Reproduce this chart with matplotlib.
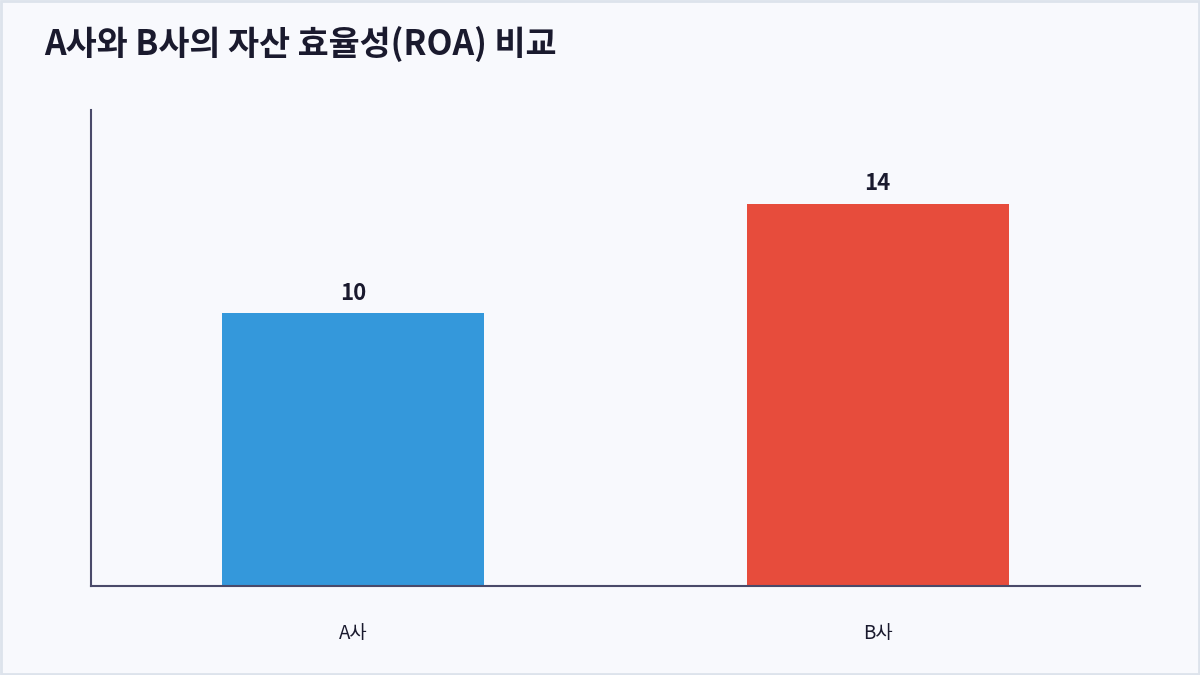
import matplotlib
matplotlib.use("Agg")
import matplotlib.pyplot as plt
from matplotlib.patches import Rectangle

plt.rcParams['font.family'] = ['Noto Sans CJK KR', 'DejaVu Sans']

categories = ["A사", "B사"]
values = [10, 14]
colors = ["#3498db", "#e74c3c"]
title = "A사와 B사의 자산 효율성(ROA) 비교"

W, H = 1200, 675
fig = plt.figure(figsize=(W / 100, H / 100), dpi=100, facecolor="#f8f9fd")
fig.patches.append(Rectangle((1 / W, 1 / H), 1 - 2 / W, 1 - 2 / H, transform=fig.transFigure,
                             fill=False, edgecolor="#dde3ec", linewidth=2))

ax = fig.add_axes([91 / W, (H - 586) / H, (1140 - 91) / W, (586 - 110) / H])
ax.set_facecolor("#f8f9fd")
x = list(range(len(categories)))
bars = ax.bar(x, values, width=0.5, color=colors, zorder=2)
ax.set_xlim(-0.5, 1.5)
ax.set_ylim(0, 17.43)
ax.set_xticks(x)
ax.set_xticklabels(categories, fontsize=13.5, color="#1a1a2e")
ax.tick_params(axis="x", length=0, pad=27)
ax.set_yticks([])
for s in ["top", "right"]:
    ax.spines[s].set_visible(False)
for s in ["left", "bottom"]:
    ax.spines[s].set_color("#4a4a6a")
    ax.spines[s].set_linewidth(1.5)

for xi, v in zip(x, values):
    ax.annotate(f"{v}", (xi, v), xytext=(0, 6), textcoords="offset points",
                ha="center", va="bottom", fontsize=16, fontweight="bold", color="#1a1a2e")

fig.text(44 / W, 1 - 44 / H, title, fontsize=24.3, fontweight="bold", color="#1a1a2e",
         ha="left", va="center")

fig.savefig("out.png", dpi=100, facecolor=fig.get_facecolor())
